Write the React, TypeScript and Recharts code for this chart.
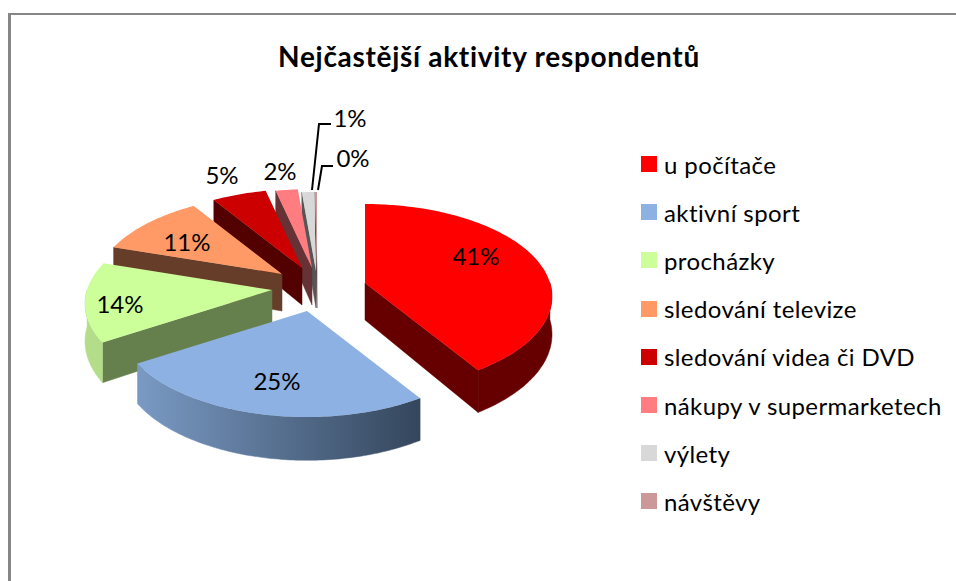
import { PieChart, Pie, Legend } from 'recharts'

const categories = ['u počítače', 'aktivní sport', 'procházky', 'sledování televize', 'sledování videa či DVD', 'nákupy v supermarketech', 'výlety', 'návštěvy']
const shares = [41, 25, 14, 11, 5.4, 2.2, 1.2, 0.2]
const topColors = ['#ff0000', '#8db1e2', '#ccff99', '#ff9966', '#cc0000', '#ff7c80', '#d8d8d8', '#cc9999']
const cutColors = ['#660000', '#384860', '#66804d', '#663d29', '#520000', '#663235', '#565656', '#523d3d']
const wallFrom = ['#660000', '#7a9ac4', '#b4dd8a', '#e08a5c', '#520000', '#663235', '#565656', '#523d3d']
const wallTo = ['#660000', '#34465c', '#b4dd8a', '#e08a5c', '#520000', '#663235', '#565656', '#523d3d']

// each slice is pulled out by hand, Excel's 3D explode is not quite radial
const explode = [[47, -5], [-11, 23], [-46, 2], [-36, -14], [-16, -20], [-6, -20], [-2, -17], [-1, -17]]
const labelSpots = [[476, 255], [277, 380], [120, 303], [187, 241], [222, 174], [280, 170], [350, 117], [353, 157]]

const W = 956
const H = 581
const CX = 318
const CY = 288
const RADIUS = 185
const RY = 90.5
const TILT = 0.146
const DEPTH = 37

// slices go in reversed so the back ones get painted first
const table = categories
  .map((name, i) => ({ name, value: shares[i], fill: topColors[i] }))
  .reverse()

const project = (deg: number, ox: number, oy: number) => {
  const t = (deg * Math.PI) / 180
  const u = Math.sin(t)
  const v = -Math.cos(t)
  const s = 1 / (1 - TILT * v)
  return { x: ox + RADIUS * u * s, y: oy + RY * v * s, s, v }
}

const toPath = (pts: { x: number; y: number }[]) =>
  'M' + pts.map((p) => `${p.x.toFixed(1)},${p.y.toFixed(1)}`).join('L') + 'Z'

function Slice(props: any) {
  const i = categories.indexOf(props.name)
  const from = 450 - props.endAngle
  const to = 450 - props.startAngle
  const ox = props.cx + explode[i][0]
  const oy = props.cy + explode[i][1]
  const rim: ReturnType<typeof project>[] = []
  const n = Math.max(2, Math.ceil(to - from))
  for (let k = 0; k <= n; k++) rim.push(project(from + ((to - from) * k) / n, ox, oy))
  const apex = { x: ox, y: oy }
  const drop = (p: { x: number; y: number; s?: number }) => ({ x: p.x, y: p.y + DEPTH * (p.s ?? 1) })
  const first = rim[0]
  const last = rim[rim.length - 1]
  const front = rim.filter((p) => p.v > -0.02)
  const gid = `wall-${i}`
  return (
    <g>
      <defs>
        <linearGradient id={gid} x1="0" x2="1" y1="0" y2="0">
          <stop offset="0" stopColor={wallFrom[i]} />
          <stop offset="1" stopColor={wallTo[i]} />
        </linearGradient>
      </defs>
      {first.x < apex.x && <path d={toPath([apex, first, drop(first), drop(apex)])} fill={cutColors[i]} stroke={cutColors[i]} strokeWidth={0.5} />}
      {last.x > apex.x && <path d={toPath([apex, last, drop(last), drop(apex)])} fill={cutColors[i]} stroke={cutColors[i]} strokeWidth={0.5} />}
      {front.length > 1 && <path d={toPath([...front, ...[...front].reverse().map(drop)])} fill={`url(#${gid})`} stroke={`url(#${gid})`} strokeWidth={0.5} />}
      <path d={toPath([apex, ...rim])} fill={topColors[i]} />
    </g>
  )
}

function SliceLabel(props: any) {
  const i = categories.indexOf(props.name)
  const [x, y] = labelSpots[i]
  return (
    <text x={x} y={y} textAnchor="middle" dominantBaseline="central" fontFamily="Lato" fontSize={24} fill="#000">
      {Math.round(props.percent * 100)}%
    </text>
  )
}

function LegendList() {
  return (
    <div style={{ fontFamily: 'Lato', fontSize: 24, letterSpacing: 0.4, color: '#000' }}>
      {categories.map((name, i) => (
        <div key={name} style={{ display: 'flex', alignItems: 'center', height: 48.2, whiteSpace: 'nowrap' }}>
          <span style={{ width: 16, height: 16, background: topColors[i], marginRight: 7 }} />
          {name}
        </div>
      ))}
    </div>
  )
}

export default function App() {
  return (
    <div style={{ position: 'absolute', left: 0, top: 0, width: W, height: H, overflow: 'hidden', background: '#fff' }}>
      <div style={{ position: 'absolute', left: 8, top: 13, right: 0, bottom: 0, borderLeft: '3px solid #868686', borderTop: '2px solid #868686' }} />
      <PieChart width={W} height={H} margin={{ top: 0, right: 0, bottom: 0, left: 0 }} style={{ position: 'absolute', left: 0, top: 0 }}>
        <text x={489} y={56} textAnchor="middle" dominantBaseline="central" fontFamily="Lato" fontWeight={700} fontSize={28} letterSpacing={0.7} fill="#000">
          Nejčastější aktivity respondentů
        </text>
        <Pie
          data={table}
          dataKey="value"
          nameKey="name"
          cx={CX}
          cy={CY}
          outerRadius={RADIUS}
          startAngle={90}
          endAngle={450}
          stroke="none"
          shape={Slice}
          label={SliceLabel}
          labelLine={false}
          isAnimationActive={false}
        />
        <Legend content={LegendList} wrapperStyle={{ left: 641, top: 140, width: 312 }} />
        <polyline points="312,190 319,124 331,124" fill="none" stroke="#000" strokeWidth={2} />
        <polyline points="318,190 322,166 333,166" fill="none" stroke="#000" strokeWidth={2} />
      </PieChart>
    </div>
  )
}
